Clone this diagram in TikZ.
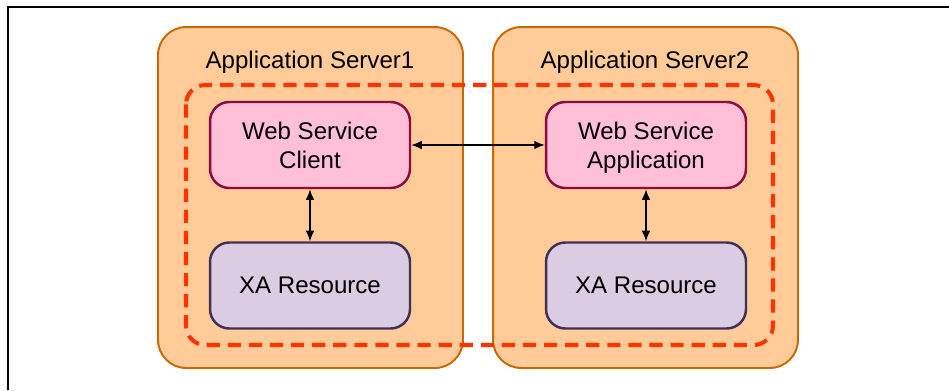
\documentclass[tikz,border=0pt]{standalone}
\usepackage{fontspec}
\setmainfont{Liberation Sans}
\usetikzlibrary{arrows.meta}

\definecolor{srvfill}{HTML}{FFCC99}
\definecolor{srvdraw}{HTML}{CC6600}
\definecolor{txred}{HTML}{FF3300}
\definecolor{wsfill}{HTML}{FFBFD6}
\definecolor{wsdraw}{HTML}{8B0A45}
\definecolor{xafill}{HTML}{DACCE2}
\definecolor{xadraw}{HTML}{3F3155}

\tikzset{
  server/.style={draw=srvdraw, fill=srvfill, line width=1.1pt,
    rounded corners=16pt, minimum width=6.1cm, minimum height=6.82cm},
  srvtitle/.style={font=\fontsize{13.7}{16.4}\selectfont},
  wsbox/.style={draw=wsdraw, fill=wsfill, line width=1.4pt, rounded corners=11pt,
    minimum width=4cm, minimum height=1.72cm, align=center,
    font=\fontsize{13.7}{16.4}\selectfont},
  xabox/.style={wsbox, draw=xadraw, fill=xafill},
  link/.style={line width=1pt, {Latex[length=6pt,width=5pt]}-{Latex[length=6pt,width=5pt]}}
}

\begin{document}
\begin{tikzpicture}[x=0.02cm, y=-0.02cm]
  \useasboundingbox (0,0) rectangle (949,390);

  % application servers
  \node[server] (srv1) at (310.5,197.5) {};
  \node[server] (srv2) at (645.5,197.5) {};
  \node[srvtitle] (srv1title) at (310,62) {Application Server1};
  \node[srvtitle] (srv2title) at (645,62) {Application Server2};

  % transaction scope
  \draw[txred, line width=2.3pt, dash pattern=on 7.5pt off 4.5pt, rounded corners=11pt]
    (186,85) rectangle (773,345);

  % components
  \node[wsbox] (client) at (310,145) {Web Service\\Client};
  \node[wsbox] (wsapp) at (646,145) {Web Service\\\smash{Application}};
  \node[xabox] (xa1) at (310,285.5) {XA Resource};
  \node[xabox] (xa2) at (646,285.5) {XA Resource};

  \draw[link] (client) -- (wsapp);
  \draw[link] (client) -- (xa1);
  \draw[link] (wsapp) -- (xa2);

  % frame
  \draw[line width=0.8pt] (8,390) -- (8,7) -- (949,7);
\end{tikzpicture}
\end{document}
